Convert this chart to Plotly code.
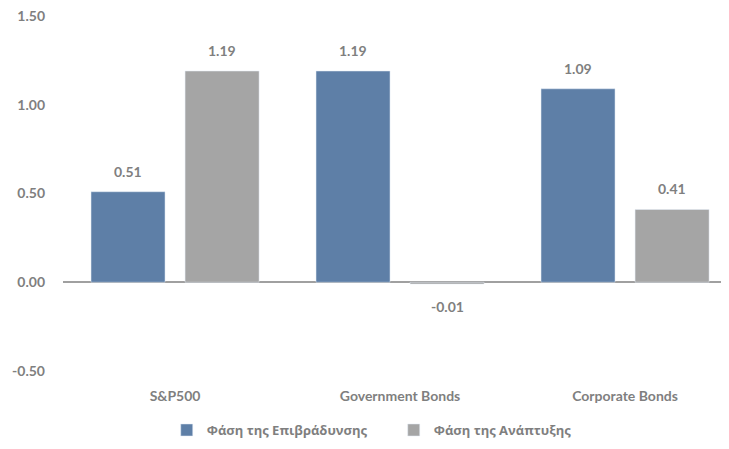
import plotly.graph_objects as go

categories = ["S&P500", "Government Bonds", "Corporate Bonds"]
slowdown = [0.51, 1.19, 1.09]
expansion = [1.19, -0.01, 0.41]
slowdown_labels = ["0.51", "1.19", "1.09"]
expansion_labels = ["1.19", "-0.01", "0.41"]
series_names = ["Φάση της Επιβράδυνσης", "Φάση της Ανάπτυξης"]
y_tickvals = [-0.5, 0.0, 0.5, 1.0, 1.5]
y_ticktext = ["-0.50", "0.00", "0.50", "1.00", "1.50"]

FONT = "Lato"
GFONT = "Open Sans"
GREY = "#7f7f7f"
BLUE = "#5E7FA7"
LGREY = "#A5A5A5"

fig = go.Figure()
fig.add_trace(go.Bar(x=categories, y=slowdown, name=series_names[0], marker_color=BLUE))
fig.add_trace(go.Bar(x=categories, y=expansion, name=series_names[1], marker_color=LGREY))

# value labels, offset to each bar of the group
for values, labels, shift in [(slowdown, slowdown_labels, -47), (expansion, expansion_labels, 47)]:
    for cat, v, lab in zip(categories, values, labels):
        fig.add_annotation(
            x=cat, y=v, text=lab, showarrow=False, xshift=shift,
            yanchor="bottom" if v >= 0 else "top",
            yshift=10 if v >= 0 else -12,
            font=dict(family=FONT, size=14, color=GREY, weight="bold"),
        )

fig.update_layout(
    width=721, height=441,
    margin=dict(l=55, r=0, t=8, b=78, autoexpand=False),
    paper_bgcolor="white", plot_bgcolor="white",
    barmode="group", bargap=0.164, bargroupgap=0.213,
    font=dict(family=FONT, color=GREY, size=14),
    showlegend=True,
    legend=dict(
        orientation="h", xref="container", yref="container",
        x=0.535, xanchor="center", y=0.043, yanchor="middle",
        font=dict(family=GFONT, size=13, color=GREY, weight="bold"),
        tracegroupgap=0, entrywidth=182, entrywidthmode="pixels",
    ),
)
fig.update_yaxes(
    range=[-0.5, 1.5], tickvals=y_tickvals, ticktext=y_ticktext,
    showgrid=False, showline=False, automargin=False,
    ticklabeloverflow="allow",
    zeroline=True, zerolinecolor="#a0a0a0", zerolinewidth=1.5,
    tickfont=dict(family=FONT, size=14, color=GREY, weight="bold"),
    ticklabelstandoff=17,
)
fig.update_xaxes(
    range=[-0.498, 2.462],
    showgrid=False, showline=False, ticks="", automargin=False,
    ticklabeloverflow="allow",
    tickfont=dict(family=FONT, size=14, color=GREY, weight="bold"),
    ticklabelstandoff=15,
)

fig.write_html("out.html")
